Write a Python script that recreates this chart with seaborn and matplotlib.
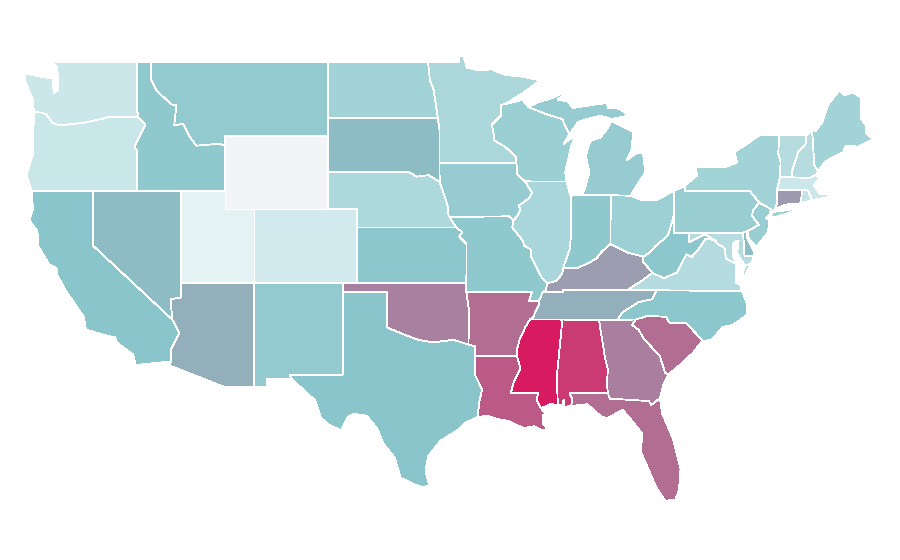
import matplotlib
matplotlib.use("Agg")
import matplotlib.pyplot as plt
from matplotlib.colors import LinearSegmentedColormap, Normalize
import seaborn as sns

# ---- data: index per state
states = ["WA","OR","CA","NV","ID","MT","WY","UT","CO","AZ","NM","ND","SD","NE","KS","OK","TX",
          "MN","IA","MO","AR","LA","WI","IL","MI","IN","OH","KY","TN","MS","AL","GA","FL","SC",
          "NC","VA","WV","MD","DE","PA","NJ","NY","CT","RI","MA","VT","NH","ME"]
values = [19,20,50,53,47,46,0,7,16,57,46,38,53,33,49,70,50,
          34,44,47,76,82,42,35,44,47,41,62,57,100,91,71,76,76,
          49,30,49,29,52,43,43,38,62.5,22,19,29,29,38]
scale_stops = [0, 7, 19, 50, 100]
scale_colours = ["#f3f4f6", "#e4f2f4", "#cbe7ea", "#89c6cb", "#d81b60"]

# ---- shared borders (lon, lat)
MN_WI = [(-92.01,46.71),(-92.29,46.66),(-92.29,46.07),(-92.88,45.6),(-92.75,45.0),(-92.75,44.75),(-92.0,44.4),(-91.25,43.85),(-91.22,43.5)]
IA_WI = [(-91.22,43.5),(-91.15,42.9),(-90.64,42.51)]
IA_IL = [(-90.64,42.51),(-90.15,41.9),(-90.34,41.6),(-91.05,41.2),(-90.95,40.95),(-91.1,40.7),(-91.42,40.38)]
MO_IL = [(-91.42,40.38),(-91.5,40.0),(-90.75,39.25),(-90.7,39.0),(-90.2,38.8),(-90.2,38.4),(-89.9,37.9),(-89.5,37.3),(-89.13,36.98)]
TN_AR = [(-89.7,36.0),(-89.7,35.8),(-90.1,35.1),(-90.3,35.0)]
MS_AR = [(-90.3,35.0),(-90.6,34.6),(-91.0,33.9),(-91.2,33.3),(-91.17,33.0)]
MS_LA = [(-91.17,33.0),(-91.0,32.5),(-90.95,32.3),(-91.4,31.6),(-91.6,31.0),(-89.73,31.0),(-89.85,30.67),(-89.55,30.18)]
IL_KY = [(-89.13,36.98),(-88.5,37.1),(-88.1,37.5),(-88.03,37.8)]
IN_KY = [(-88.03,37.8),(-87.1,37.8),(-86.5,38.0),(-85.8,38.3),(-85.4,38.7),(-84.82,39.1)]
OH_KY = [(-84.82,39.1),(-84.3,38.9),(-83.7,38.65),(-82.6,38.42)]
OH_WV = [(-82.6,38.42),(-82.2,38.6),(-81.75,39.0),(-81.0,39.5),(-80.85,39.7),(-80.52,40.64)]
WV_KY = [(-82.6,38.42),(-82.6,38.15),(-81.97,37.54)]
VA_KY = [(-81.97,37.54),(-82.7,37.1),(-83.68,36.6)]
IL_IN = [(-87.53,41.72),(-87.53,39.35),(-87.6,38.8),(-87.95,38.0),(-88.03,37.8)]
COLUMBIA = [(-124.05,46.27),(-123.5,46.25),(-123.2,46.15),(-122.8,45.7),(-122.3,45.55),(-121.2,45.65),(-120.5,45.72),(-119.3,45.93),(-118.98,46.0),(-116.92,46.0)]
SNAKE = [(-116.92,46.0),(-116.47,45.6),(-116.85,44.95),(-117.2,44.4),(-117.03,44.2),(-117.03,42.0)]
ID_MT = [(-116.05,49.0),(-116.05,48.0),(-115.7,47.45),(-114.7,46.7),(-114.35,46.65),(-114.5,45.55),(-113.9,45.65),(-113.45,44.95),(-113.0,44.45),(-111.5,44.55),(-111.05,44.48)]
RED = [(-100.0,34.56),(-98.9,34.2),(-97.9,33.9),(-97.2,33.8),(-96.5,33.8),(-95.5,33.9),(-94.48,33.64)]
MO_SD = [(-96.44,42.49),(-97.2,42.85),(-98.0,42.77),(-98.5,43.0)]
NE_IA = [(-96.44,42.49),(-96.1,41.7),(-95.9,41.2),(-95.85,40.7)]
TX_LA = [(-94.04,32.0),(-93.55,31.2),(-93.75,30.5),(-93.85,29.7)]
SAV = [(-83.1,35.0),(-83.35,34.7),(-82.9,34.45),(-82.55,33.95),(-81.9,33.4),(-81.45,33.0),(-81.1,32.1),(-80.85,32.03)]
NC_SC = [(-83.1,35.0),(-82.3,35.2),(-81.05,35.15),(-80.8,34.82),(-79.67,34.8),(-78.55,33.86)]
NC_TN = [(-81.68,36.59),(-82.0,36.1),(-82.9,35.95),(-84.0,35.4),(-84.32,35.0)]
VA_WV = [(-77.72,39.32),(-78.35,39.4),(-78.87,38.77),(-79.3,38.4),(-79.65,38.55),(-80.3,37.55),(-81.2,37.25),(-81.97,37.54)]
POTOMAC = [(-76.3,38.05),(-76.95,38.3),(-77.05,38.85),(-77.12,38.93),(-77.5,39.1),(-77.72,39.32)]
DELAWARE = [(-74.7,41.36),(-75.1,40.95),(-75.2,40.65),(-74.72,40.15),(-75.45,39.82)]
NY_NJ = [(-74.7,41.36),(-73.9,41.0)]
NY_NE = [(-73.65,41.0),(-73.5,41.3),(-73.5,42.05),(-73.27,42.75),(-73.25,43.6),(-73.4,44.0),(-73.35,45.0)]
VT_NH = [(-71.5,45.0),(-71.55,44.5),(-72.05,44.1),(-72.45,43.1),(-72.46,42.73)]
WI_UP = [(-90.4,46.55),(-89.1,46.14),(-88.1,45.9),(-87.8,45.35),(-87.6,45.1)]

r = lambda part: part[::-1]

shapes = {
 "WA": [[(-124.73,48.38),(-124.6,47.9),(-124.1,46.9)] + COLUMBIA + [(-117.04,46.4),(-117.04,49.0),(-122.76,49.0),(-122.5,48.75),(-122.4,48.2),(-122.4,47.5),(-122.7,47.3),(-122.75,48.1),(-123.2,48.15)]],
 "OR": [COLUMBIA + SNAKE + [(-124.2,42.0),(-124.55,42.85),(-124.1,44.0)]],
 "CA": [[(-124.2,42.0),(-120.0,42.0),(-120.0,39.0),(-114.63,35.0),(-114.15,34.27),(-114.7,33.4),(-114.72,32.72),(-117.12,32.53),(-117.3,33.1),(-118.4,33.75),(-118.5,34.03),(-119.2,34.15),(-120.5,34.45),(-120.65,35.15),(-121.9,36.6),(-122.5,37.5),(-122.5,37.8),(-123.0,38.0),(-123.75,39.0),(-123.8,39.8),(-124.35,40.4),(-124.1,41.0)]],
 "NV": [[(-120.0,42.0),(-114.04,42.0),(-114.04,36.2),(-114.75,36.1),(-114.63,35.0),(-120.0,39.0)]],
 "ID": [[(-117.04,49.0)] + ID_MT + [(-111.05,42.0)] + r(SNAKE) + [(-117.04,46.4)]],
 "MT": [[(-116.05,49.0),(-104.05,49.0),(-104.05,45.0),(-111.05,45.0)] + r(ID_MT)],
 "WY": [[(-111.05,45.0),(-104.05,45.0),(-104.05,41.0),(-111.05,41.0)]],
 "UT": [[(-114.04,42.0),(-111.05,42.0),(-111.05,41.0),(-109.05,41.0),(-109.05,37.0),(-114.04,37.0)]],
 "CO": [[(-109.05,41.0),(-102.05,41.0),(-102.05,37.0),(-109.05,37.0)]],
 "AZ": [[(-114.04,37.0),(-109.05,37.0),(-109.05,31.33),(-111.07,31.33),(-114.81,32.5),(-114.72,32.72),(-114.7,33.4),(-114.15,34.27),(-114.63,35.0),(-114.75,36.1),(-114.04,36.2)]],
 "NM": [[(-109.05,37.0),(-103.0,37.0),(-103.04,32.0),(-106.62,32.0),(-106.53,31.78),(-108.2,31.78),(-108.2,31.33),(-109.05,31.33)]],
 "ND": [[(-104.05,49.0),(-97.23,49.0),(-97.1,48.0),(-96.85,47.5),(-96.56,45.94),(-104.05,45.94)]],
 "SD": [[(-104.05,45.94),(-96.56,45.94),(-96.45,45.3),(-96.45,43.5)] + MO_SD + [(-104.05,43.0)]],
 "NE": [[(-104.05,43.0)] + r(MO_SD) + NE_IA + [(-95.31,40.0),(-102.05,40.0),(-102.05,41.0),(-104.05,41.0)]],
 "KS": [[(-102.05,40.0),(-95.31,40.0),(-94.9,39.75),(-95.1,39.5),(-94.61,39.1),(-94.62,37.0),(-102.05,37.0)]],
 "OK": [[(-103.0,37.0),(-94.62,37.0),(-94.43,35.4)] + r(RED) + [(-100.0,36.5),(-103.0,36.5)]],
 "TX": [[(-103.0,36.5),(-100.0,36.5)] + RED + [(-94.04,33.55)] + TX_LA + [(-94.7,29.4),(-95.2,29.0),(-96.4,28.4),(-97.2,27.6),(-97.4,26.8),(-97.15,25.96),(-97.6,25.9),(-98.2,26.05),(-99.1,26.4),(-99.5,27.5),(-100.3,28.3),(-100.7,29.1),(-101.4,29.77),(-102.3,29.88),(-102.7,29.7),(-103.15,28.98),(-104.0,29.3),(-104.5,29.65),(-104.9,30.6),(-106.53,31.78),(-106.62,32.0),(-103.04,32.0)]],
 "MN": [[(-97.23,49.0),(-95.15,49.0),(-95.15,49.38),(-94.8,49.3),(-94.6,48.7),(-93.8,48.55),(-92.9,48.6),(-92.0,48.3),(-90.8,48.2),(-89.6,48.0),(-90.8,47.3)] + MN_WI + [(-96.45,43.5),(-96.45,45.3),(-96.56,45.94),(-96.85,47.5),(-97.1,48.0)]],
 "IA": [[(-96.45,43.5)] + IA_WI + IA_IL + [(-91.73,40.61),(-95.77,40.58)] + r(NE_IA)],
 "MO": [[(-95.77,40.58),(-91.73,40.61)] + MO_IL + [(-89.2,36.6),(-89.42,36.5),(-89.7,36.0),(-90.37,36.0),(-90.15,36.5),(-94.62,36.5),(-94.62,37.0),(-94.61,39.1),(-95.1,39.5),(-94.9,39.75),(-95.31,40.0)]],
 "AR": [[(-94.62,36.5),(-90.15,36.5),(-90.37,36.0)] + TN_AR + MS_AR + [(-94.04,33.0),(-94.04,33.55),(-94.48,33.64),(-94.43,35.4)]],
 "LA": [[(-94.04,33.0)] + MS_LA + [(-89.4,30.05),(-89.2,29.9),(-89.4,29.8),(-89.4,29.3),(-89.1,29.1),(-89.4,28.95),(-90.0,29.2),(-90.7,29.1),(-91.3,29.3),(-91.8,29.5),(-92.3,29.55),(-93.2,29.77)] + r(TX_LA)],
 "WI": [MN_WI[:1] + [(-91.0,46.9),(-90.8,46.95)] + WI_UP + [(-88.0,44.55),(-87.4,44.9),(-87.05,45.25),(-87.5,44.4),(-87.9,43.0),(-87.8,42.5)] + r(IA_WI) + r(MN_WI)],
 "IL": [[(-90.64,42.51),(-87.8,42.5),(-87.6,41.85)] + IL_IN + r(IL_KY) + r(MO_IL) + r(IA_IL)],
 "MI": [[(-86.82,41.76),(-84.8,41.76),(-83.45,41.73),(-83.1,42.2),(-82.45,43.0),(-82.6,44.05),(-83.0,44.07),(-83.7,43.67),(-83.35,44.3),(-83.3,45.2),(-84.75,45.8),(-85.0,45.4),(-85.5,44.9),(-86.2,44.7),(-86.5,43.9),(-86.25,43.0),(-86.6,42.0)],
        WI_UP + [(-87.0,45.75),(-86.2,45.95),(-85.5,46.08),(-84.75,45.9),(-84.1,46.0),(-83.6,46.1),(-84.1,46.4),(-84.4,46.5),(-85.0,46.5),(-85.05,46.77),(-85.95,46.68),(-87.4,46.5),(-87.7,46.85),(-88.4,46.95),(-87.75,47.45),(-88.9,47.0),(-89.7,46.83)],
        [(-89.2,47.85),(-88.4,48.25),(-88.7,48.0)]],
 "IN": [[(-87.53,41.72),(-87.2,41.76),(-84.8,41.76)] + IN_KY[::-1] + r(IL_IN)],
 "OH": [[(-84.8,41.76),(-83.45,41.73),(-82.7,41.5),(-81.7,41.5),(-80.52,41.98)] + r(OH_WV) + r(OH_KY)],
 "KY": [[(-89.42,36.5),(-89.2,36.6)] + IL_KY + IN_KY + OH_KY + WV_KY + VA_KY + [(-88.07,36.6),(-88.07,36.5)]],
 "TN": [[(-89.42,36.5),(-88.07,36.5),(-88.07,36.6),(-83.68,36.6)] + NC_TN + [(-88.2,35.0)] + r(TN_AR)],
 "MS": [[(-90.3,35.0),(-88.2,35.0),(-88.1,34.9),(-88.47,31.9),(-88.4,30.37),(-88.9,30.4)] + r(MS_LA) + r(MS_AR)],
 "AL": [[(-88.2,35.0),(-85.6,34.98),(-85.18,32.87),(-85.0,32.3),(-85.05,31.55),(-85.0,31.0),(-87.6,31.0),(-87.4,30.65),(-87.5,30.3),(-88.0,30.25),(-88.0,30.65),(-88.1,30.35),(-88.4,30.37),(-88.47,31.9),(-88.1,34.9)]],
 "GA": [[(-85.6,34.98)] + SAV + [(-81.2,31.5),(-81.45,30.72),(-82.05,30.36),(-82.2,30.57),(-84.86,30.7),(-85.0,31.0),(-85.05,31.55),(-85.0,32.3),(-85.18,32.87)]],
 "FL": [[(-87.6,31.0),(-85.0,31.0),(-84.86,30.7),(-82.2,30.57),(-82.05,30.36),(-81.45,30.72),(-81.3,29.9),(-80.55,28.5),(-80.05,26.9),(-80.15,25.75),(-80.4,25.2),(-81.1,25.15),(-81.75,25.95),(-82.2,26.8),(-82.75,27.8),(-82.65,28.8),(-83.4,29.55),(-84.0,30.1),(-85.0,29.65),(-85.4,29.7),(-86.4,30.4),(-87.5,30.3),(-87.4,30.65)]],
 "SC": [NC_SC + [(-79.2,33.2),(-80.0,32.6)] + r(SAV)],
 "NC": [[(-84.32,35.0)] + NC_SC + [(-77.95,33.87),(-77.2,34.6),(-76.5,34.7),(-75.55,35.25),(-75.5,35.8),(-75.87,36.55)] + NC_TN],
 "VA": [[(-83.68,36.6),(-81.68,36.59),(-75.87,36.55),(-76.0,36.9),(-76.3,37.0),(-76.3,37.6)] + POTOMAC + VA_WV + VA_KY,
        [(-75.95,37.15),(-75.65,37.95),(-75.25,38.03),(-75.6,37.5)]],
 "WV": [OH_WV + [(-80.52,39.72),(-79.48,39.72),(-79.48,39.2),(-78.4,39.62)] + VA_WV + r(WV_KY)],
 "MD": [[(-79.48,39.72),(-75.79,39.72),(-75.7,38.46),(-75.05,38.45),(-75.25,38.03),(-75.65,37.95),(-75.9,38.2),(-76.2,38.6),(-76.1,39.3),(-76.45,39.2),(-76.5,38.5)] + POTOMAC + [(-78.4,39.62),(-79.48,39.2)]],
 "DE": [[(-75.79,39.72),(-75.45,39.82),(-75.55,39.5),(-75.1,38.8),(-75.05,38.45),(-75.7,38.46)]],
 "PA": [[(-80.52,41.98),(-79.76,42.27),(-79.76,42.0),(-75.35,42.0)] + DELAWARE + [(-75.79,39.72),(-80.52,39.72),(-80.52,40.64)]],
 "NJ": [NY_NJ + [(-74.0,40.7),(-74.25,40.5),(-74.0,40.45),(-74.1,39.75),(-74.9,38.95),(-75.5,39.5)] + r(DELAWARE)],
 "NY": [[(-79.76,42.27),(-79.76,42.0),(-75.35,42.0)] + NY_NJ + [(-73.9,40.8)] + NY_NE + [(-74.7,45.0),(-75.8,44.4),(-76.4,44.1),(-76.2,43.55),(-77.0,43.28),(-79.05,43.27),(-78.9,42.85)],
        [(-74.0,40.6),(-73.75,40.85),(-72.6,40.97),(-71.9,41.07),(-72.6,40.8),(-73.6,40.58)]],
 "CT": [NY_NE[:3] + [(-71.8,42.02),(-71.85,41.32),(-72.9,41.25)]],
 "RI": [[(-71.8,42.02),(-71.38,42.02),(-71.12,41.5),(-71.85,41.32)]],
 "MA": [[(-73.5,42.05),(-73.27,42.75),(-72.46,42.73),(-71.3,42.7),(-70.8,42.87),(-70.6,42.65),(-71.0,42.3),(-70.55,41.8),(-70.0,41.8),(-70.05,42.05),(-69.95,41.67),(-70.65,41.55),(-71.12,41.5),(-71.38,42.02),(-71.8,42.02)]],
 "VT": [[(-73.35,45.0)] + VT_NH + [(-73.27,42.75),(-73.25,43.6),(-73.4,44.0)]],
 "NH": [[(-71.5,45.0),(-71.1,45.3),(-70.95,43.4),(-70.7,43.07),(-70.8,42.87),(-71.3,42.7)] + r(VT_NH)],
 "ME": [[(-71.1,45.3),(-70.85,45.25),(-70.4,45.75),(-70.0,46.7),(-69.23,47.46),(-68.9,47.2),(-68.3,47.35),(-67.8,47.07),(-67.78,45.9),(-67.45,45.6),(-67.45,45.15),(-66.95,44.8),(-68.0,44.4),(-68.8,44.45),(-69.0,44.1),(-70.2,43.6),(-70.7,43.07),(-70.95,43.4)]],
}

sns.set_style("white")
cmap = LinearSegmentedColormap.from_list(
    "rate", [(s / 100, c) for s, c in zip(scale_stops, scale_colours)], N=256)
norm = Normalize(0, 100)

fig = plt.figure(figsize=(9, 5.6), dpi=100)
ax = fig.add_axes([0, 0, 1, 1])
for state, value in zip(states, values):
    for ring in shapes[state]:
        xs, ys = zip(*ring)
        ax.fill(xs, ys, facecolor=cmap(norm(value)), edgecolor="white",
                linewidth=0.6, antialiased=False, joinstyle="round")
# plate carree view: 14.7 px per degree of longitude, 18.4 px per degree of latitude
ax.set_xlim(-126.35, -65.12)
ax.set_ylim(21.93, 52.37)
ax.set_axis_off()
sns.despine(ax=ax, left=True, bottom=True)
fig.savefig("out.png", dpi=100, facecolor="white")
